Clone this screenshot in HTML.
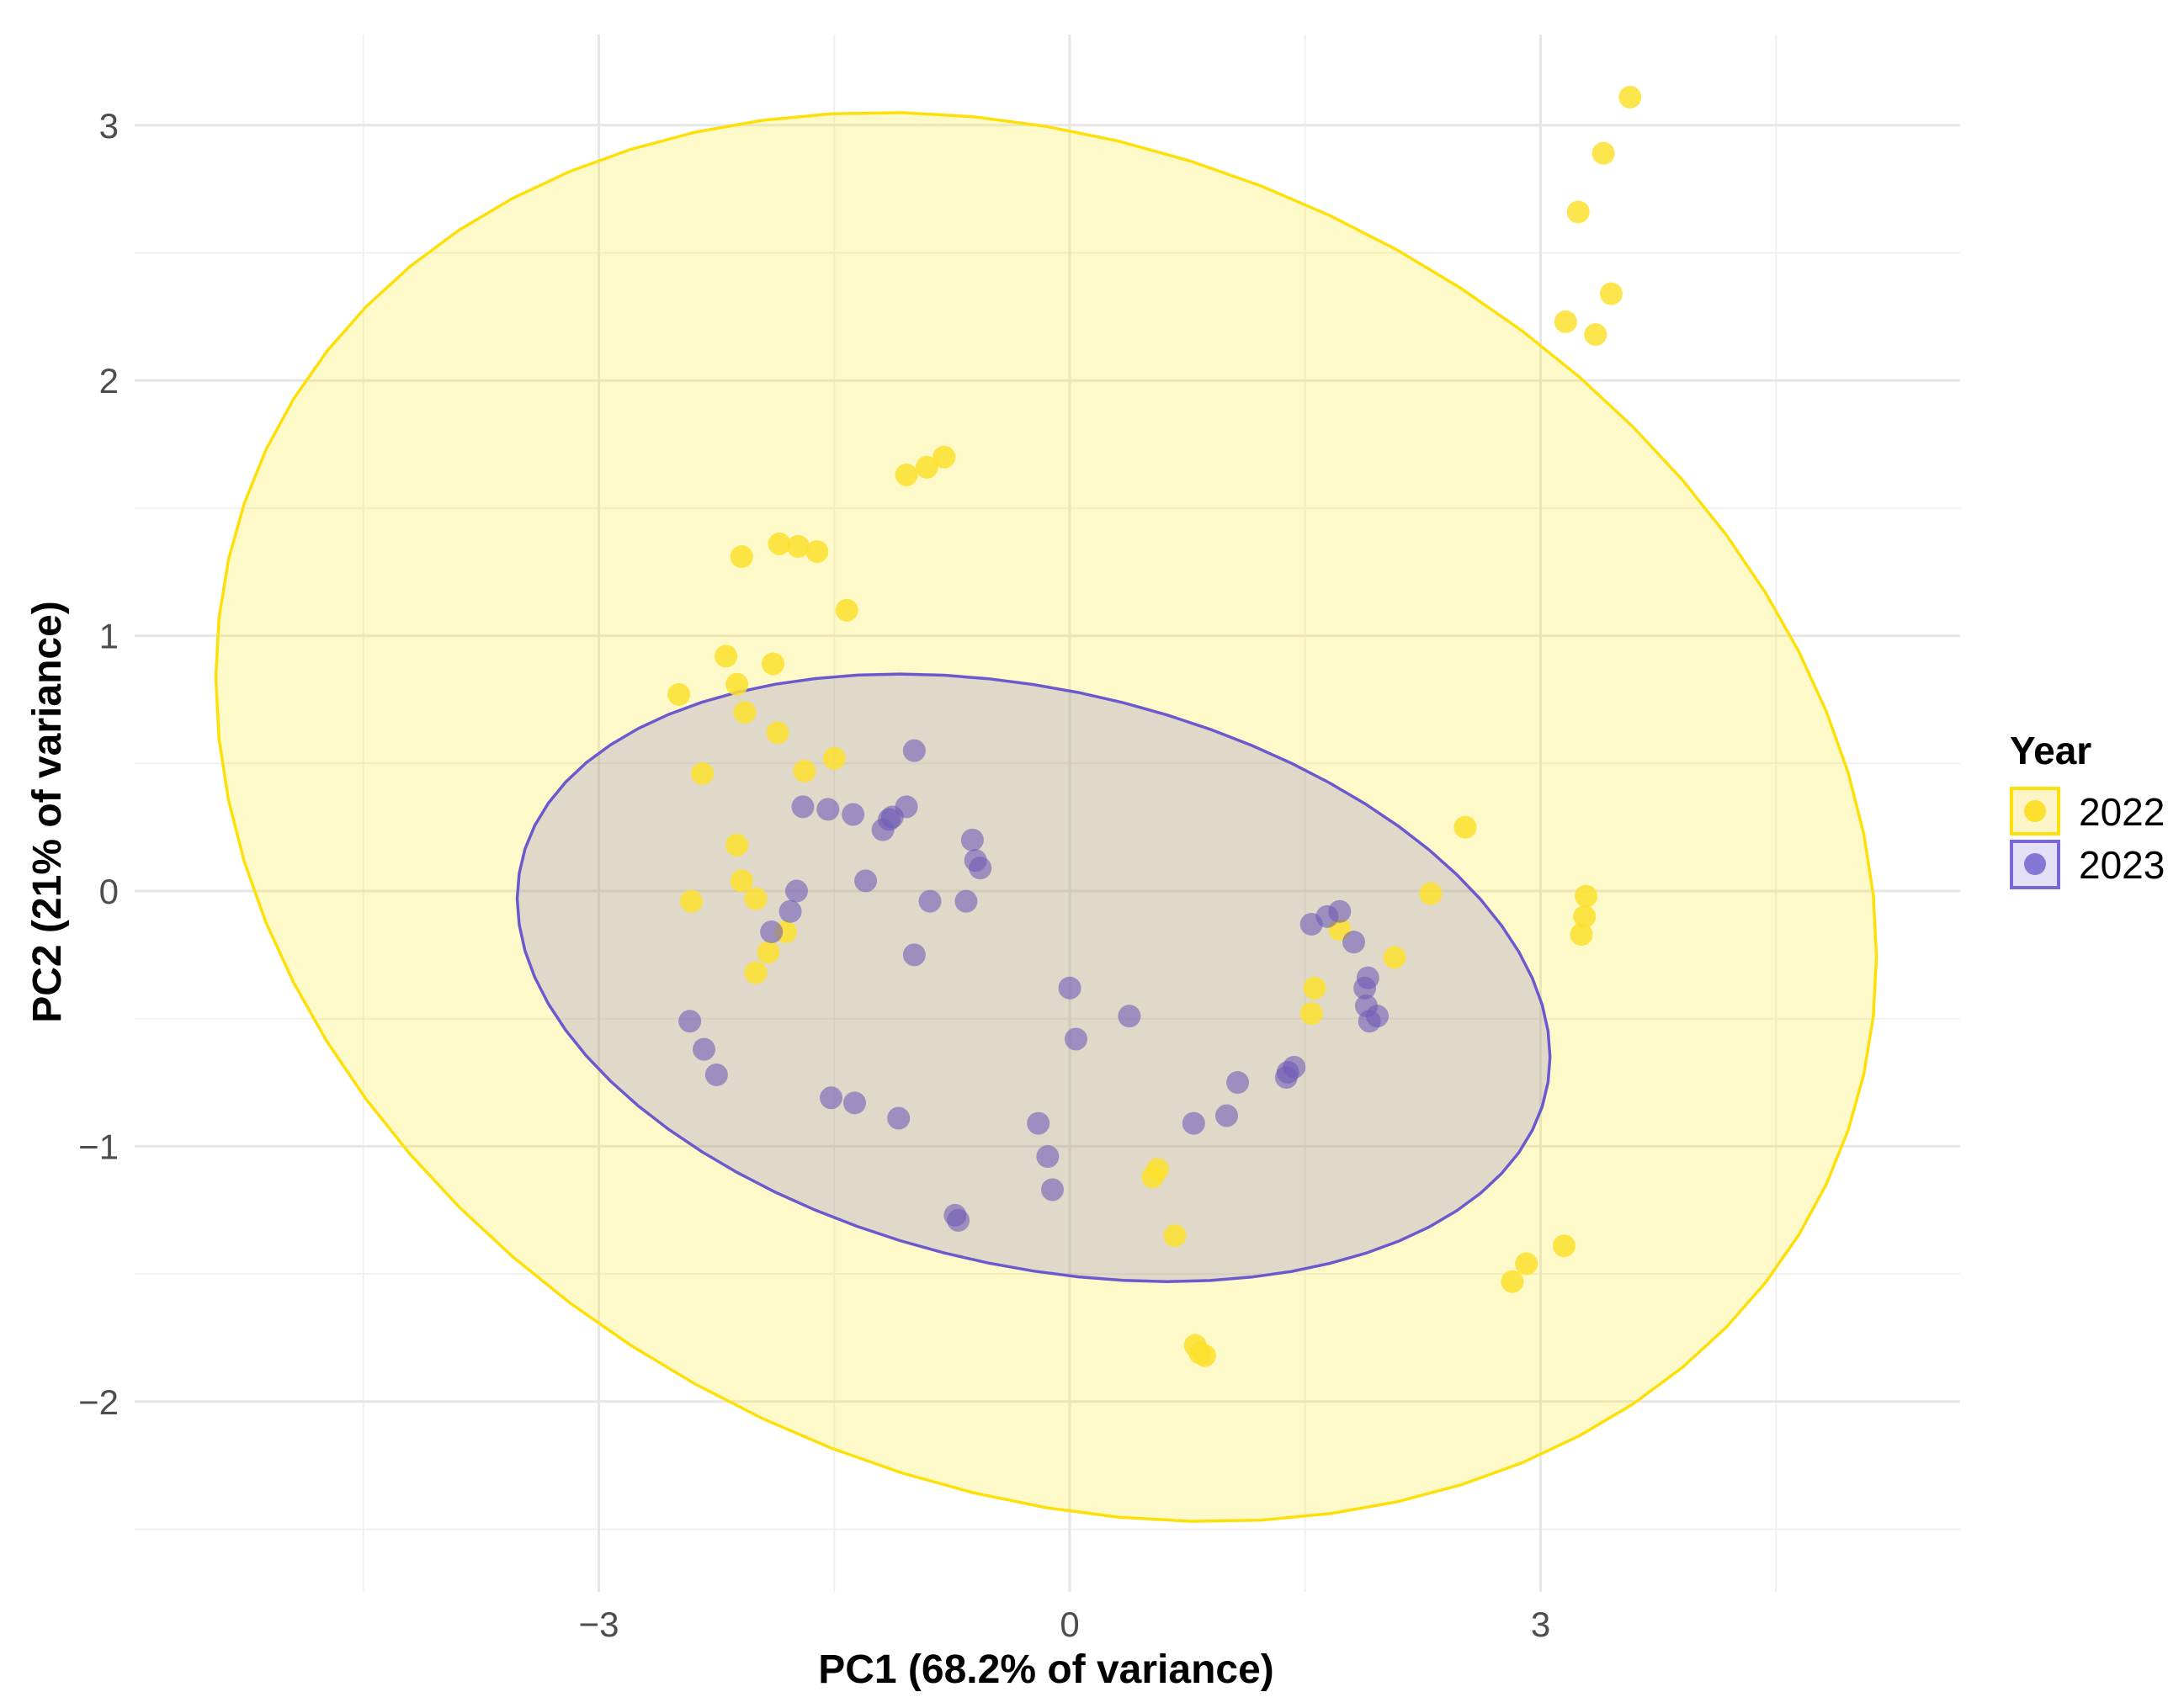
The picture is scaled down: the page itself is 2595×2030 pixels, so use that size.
<!DOCTYPE html>
<html><head><meta charset="utf-8">
<style>
html,body{margin:0;padding:0;background:#fff;}
svg{display:block;font-family:"Liberation Sans",Arial,sans-serif;}
</style></head>
<body>
<svg id="chart" width="2595" height="2030" viewBox="0 0 2595 2030" xmlns="http://www.w3.org/2000/svg">
<g id="grid"></g>
<g id="ellipses"></g>
<g id="points"></g>
<g id="axes"></g>
<text x="1243" y="2000" font-size="48" font-weight="bold" text-anchor="middle" fill="#000">PC1 (68.2% of variance)</text>
<text x="0" y="0" transform="translate(72,965) rotate(-90)" font-size="48" font-weight="bold" text-anchor="middle" fill="#000">PC2 (21% of variance)</text>
<g>
  <text x="2388" y="908" font-size="46" font-weight="bold" fill="#000">Year</text>
  <g>
    <rect x="2390" y="937" width="56" height="54" fill="#fdf5c8" stroke="#fde00a" stroke-width="4"/>
    <circle cx="2418" cy="964" r="13" fill="#fde02e"/>
    <text x="2470" y="981" font-size="46" fill="#000">2022</text>
  </g>
  <g>
    <rect x="2390" y="1000" width="56" height="55" fill="#e4e0f6" stroke="#7a66d8" stroke-width="4"/>
    <circle cx="2418" cy="1027" r="13" fill="#8577d6"/>
    <text x="2470" y="1044" font-size="46" fill="#000">2023</text>
  </g>
</g>
</svg>
<script>
const xTicks = [-3, 0, 3];
const yTicks = [-2, -1, 0, 1, 2, 3];
const xMinor = [-4.5, -1.5, 1.5, 4.5];
const yMinor = [-2.5, -1.5, -0.5, 0.5, 1.5, 2.5];
const x2022 = [3.57,3.40,3.24,3.45,3.16,3.35,-1.04,-0.91,-0.80,-2.09,-1.85,-1.73,-1.61,-1.42,-2.49,-2.19,-1.89,-2.12,-2.07,-1.86,-2.34,-1.69,-1.50,-2.12,-2.09,-2.00,-2.41,-1.81,-1.92,-2.00,2.52,2.30,3.29,3.28,3.26,1.72,2.07,1.56,1.54,0.56,0.53,0.67,3.15,2.91,2.82,0.80,0.83,0.86];
const y2022 = [3.11,2.89,2.66,2.34,2.23,2.18,1.63,1.66,1.70,1.31,1.36,1.35,1.33,1.10,0.77,0.92,0.89,0.81,0.70,0.62,0.46,0.47,0.52,0.18,0.04,-0.03,-0.04,-0.16,-0.24,-0.32,0.25,-0.01,-0.02,-0.10,-0.17,-0.15,-0.26,-0.38,-0.48,-1.09,-1.12,-1.35,-1.39,-1.46,-1.53,-1.78,-1.81,-1.82];
const x2023 = [-0.99,-1.70,-1.54,-1.38,-1.04,-1.13,-1.15,-1.19,-0.62,-0.60,-0.57,-1.30,-1.74,-0.89,-0.66,-1.78,-1.90,-0.99,0.00,0.38,0.04,-2.42,-2.33,-2.25,-1.52,-1.37,-1.09,-0.20,-0.14,-0.11,-0.73,-0.71,0.79,1.00,1.07,1.38,1.39,1.43,1.54,1.64,1.72,1.81,1.90,1.88,1.89,1.96,1.91];
const y2023 = [0.55,0.33,0.32,0.30,0.33,0.29,0.28,0.24,0.20,0.12,0.09,0.04,0.00,-0.04,-0.04,-0.08,-0.16,-0.25,-0.38,-0.49,-0.58,-0.51,-0.62,-0.72,-0.81,-0.83,-0.89,-0.91,-1.04,-1.17,-1.27,-1.29,-0.91,-0.88,-0.75,-0.73,-0.71,-0.69,-0.13,-0.10,-0.08,-0.20,-0.34,-0.38,-0.45,-0.49,-0.51];
// ellipse params: [cx, cy, X, Y, delta(deg)]
const ell2022 = [-0.15, 0.29, 5.29, 2.76, 101.4];
const ell2023 = [-0.23, -0.34, 3.29, 1.19, 105.1];

const NS = "http://www.w3.org/2000/svg";
const X0 = 1271, XU = 186.5, Y0 = 1059, YU = 303.4;
const PL = 160, PR = 2329, PT = 41, PB = 1892;
function sx(v){ return X0 + XU * v; }
function sy(v){ return Y0 - YU * v; }
function mk(tag, attrs, parent){ const e = document.createElementNS(NS, tag); for (const k in attrs) e.setAttribute(k, attrs[k]); parent.appendChild(e); return e; }

const grid = document.getElementById('grid');
xMinor.forEach(v => { const l = mk('line', {x1:sx(v), x2:sx(v), y1:PT, y2:PB, stroke:'#f0f0f0', 'stroke-width':2}, grid);
  
   });
yMinor.forEach(v => { const l = mk('line', {x1:PL, x2:PR, y1:sy(v), y2:sy(v), stroke:'#f0f0f0', 'stroke-width':2}, grid);
  
   });
xTicks.forEach(v => { const l = mk('line', {x1:sx(v), x2:sx(v), y1:PT, y2:PB, stroke:'#e6e6e6', 'stroke-width':3}, grid);
  
   });
yTicks.forEach(v => { const l = mk('line', {x1:PL, x2:PR, y1:sy(v), y2:sy(v), stroke:'#e6e6e6', 'stroke-width':3}, grid);
  
   });

const axes = document.getElementById('axes');
xTicks.forEach(v => { const t = mk('text', {x:sx(v), y:1945, 'font-size':42, fill:'#4d4d4d', 'text-anchor':'middle'}, axes);
  t.textContent = v < 0 ? '\u2212' + Math.abs(v) : String(v);
  
   });
yTicks.forEach(v => { const t = mk('text', {x:141, y:sy(v) + 15, 'font-size':42, fill:'#4d4d4d', 'text-anchor':'end'}, axes);
  t.textContent = v < 0 ? '\u2212' + Math.abs(v) : String(v);
  
   });

function ellPts(p){ const d = p[4] * Math.PI / 180; const out = [];
  for (let i = 0; i < 72; i++){ const t = i / 72 * 2 * Math.PI;
    out.push(sx(p[0] + p[2] * Math.cos(t)).toFixed(1) + ',' + sy(p[1] + p[3] * Math.cos(t + d)).toFixed(1)); }
  return out.join(' '); }
const eg = document.getElementById('ellipses');
const e1 = mk('polygon', {points:ellPts(ell2022), fill:'#fde725', 'fill-opacity':0.25, stroke:'#fde00a', 'stroke-width':3.5}, eg);


const e2 = mk('polygon', {points:ellPts(ell2023), fill:'#6a5acd', 'fill-opacity':0.2, stroke:'#6a5acd', 'stroke-width':3.5}, eg);



const pg = document.getElementById('points');
x2022.forEach((v, i) => { const c = mk('circle', {cx:sx(v), cy:sy(y2022[i]), r:13.5, fill:'#fde02e', 'fill-opacity':0.85}, pg);
  
   });
x2023.forEach((v, i) => { const c = mk('circle', {cx:sx(v), cy:sy(y2023[i]), r:13.5, fill:'#6e5cb8', 'fill-opacity':0.6}, pg);
  
   });
</script>
</body></html>
